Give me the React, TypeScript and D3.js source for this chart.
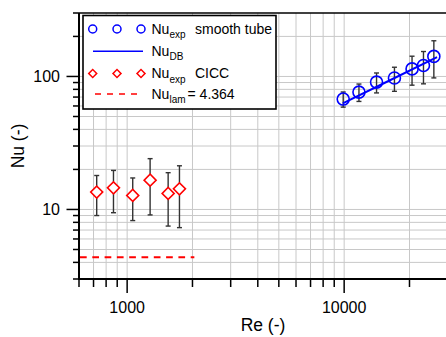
import React, { useEffect, useRef } from 'react';
import * as d3 from 'd3';

// smooth tube experiments
const tubeRe = [9900, 11700, 14100, 17050, 20550, 23200, 25900];
const tubeNu = [67.6, 76.3, 90.7, 97.3, 114, 121, 141.5];
const tubeErr = [8.8, 11.4, 15.5, 20, 28, 33, 44];

// Dittus-Boelter line
const dbRe = [9850, 16000, 26800];
const dbNu = [62.7, 92.4, 140];

// CICC experiments
const ciccRe = [724, 865, 1061, 1276, 1545, 1742];
const ciccNu = [13.5, 14.55, 12.75, 16.6, 13.2, 14.3];
const ciccErr = [4.5, 5.1, 4.5, 7.5, 5.7, 7];

// laminar limit
const lamRe = [600, 2040];
const lamNu = 4.364;

const xMinor = [600, 700, 800, 900, 2000, 3000, 4000, 5000, 6000, 7000, 8000, 9000, 20000, 30000];
const xMajor = [1000, 10000];
const yMinor = [3, 4, 5, 6, 7, 8, 9, 20, 30, 40, 50, 60, 70, 80, 90, 200, 300];
const yMajor = [10, 100];

const W = 446;
const H = 337;
const FONT = '"Liberation Sans", Arial, sans-serif';

export default function App() {
  const svgRef = useRef<SVGSVGElement>(null);

  useEffect(() => {
    if (!svgRef.current) return;
    const svg = d3.select(svgRef.current);
    svg.selectAll('*').remove();

    const left = 79, right = 447.7, top = 13, bottom = 279;
    const x = d3.scaleLog().domain([600, 30000]).range([left, right]);
    const y = d3.scaleLog().domain([3, 300]).range([bottom, top]);

    // grid
    const grid = svg.append('g').attr('stroke', '#c8c8c8').attr('stroke-width', 1);
    [...xMinor, ...xMajor]
      .filter(v => v > 600 && v < 30000)
      .forEach(v => {
        grid.append('line')
          .attr('x1', x(v)).attr('x2', x(v))
          .attr('y1', top).attr('y2', bottom);
      });
    [...yMinor, ...yMajor]
      .filter(v => v > 3 && v < 300)
      .forEach(v => {
        grid.append('line')
          .attr('x1', left).attr('x2', right)
          .attr('y1', y(v)).attr('y2', y(v));
      });

    // axes
    const ax = svg.append('g').attr('stroke', '#000');
    ax.append('line').attr('x1', left).attr('x2', W + 5).attr('y1', bottom).attr('y2', bottom).attr('stroke-width', 2);
    ax.append('line').attr('x1', left).attr('x2', left).attr('y1', top).attr('y2', bottom + 1).attr('stroke-width', 2);
    ax.append('line').attr('x1', left).attr('x2', W + 5).attr('y1', top).attr('y2', top).attr('stroke-width', 1.5);

    xMinor.forEach(v => {
      ax.append('line').attr('x1', x(v)).attr('x2', x(v)).attr('y1', bottom).attr('y2', bottom + 8).attr('stroke-width', 1.5);
    });
    xMajor.forEach(v => {
      ax.append('line').attr('x1', x(v)).attr('x2', x(v)).attr('y1', bottom).attr('y2', bottom + 14).attr('stroke-width', 1.5);
    });
    yMinor.forEach(v => {
      ax.append('line').attr('x1', left - 6).attr('x2', left).attr('y1', y(v)).attr('y2', y(v)).attr('stroke-width', 1.5);
    });
    yMajor.forEach(v => {
      ax.append('line').attr('x1', left - 12.5).attr('x2', left).attr('y1', y(v)).attr('y2', y(v)).attr('stroke-width', 1.5);
    });

    const labels = svg.append('g').attr('font-family', FONT).attr('fill', '#000');
    xMajor.forEach(v => {
      labels.append('text').attr('x', x(v)).attr('y', 312.5)
        .attr('text-anchor', 'middle').attr('font-size', 16).text(d3.format('d')(v));
    });
    yMajor.forEach(v => {
      labels.append('text').attr('x', 60).attr('y', y(v) + 5.8)
        .attr('text-anchor', 'end').attr('font-size', 16).text(d3.format('d')(v));
    });
    labels.append('text').attr('x', 263).attr('y', 331)
      .attr('text-anchor', 'middle').attr('font-size', 17.5).text('Re (-)');
    labels.append('text').attr('transform', 'translate(23.5,146) rotate(-90)')
      .attr('text-anchor', 'middle').attr('font-size', 17.5).text('Nu (-)');

    // laminar line
    svg.append('line')
      .attr('x1', x(lamRe[0]) + 1).attr('x2', x(lamRe[1]))
      .attr('y1', y(lamNu)).attr('y2', y(lamNu))
      .attr('stroke', '#ff0000').attr('stroke-width', 2)
      .attr('stroke-dasharray', '6.7,5.6');

    // error bars
    const drawErr = (re: number[], nu: number[], err: number[]) => {
      const g = svg.append('g').attr('stroke', '#333').attr('stroke-width', 1.4);
      re.forEach((r, i) => {
        const cx = x(r);
        const y1 = y(nu[i] + err[i]);
        const y2 = y(nu[i] - err[i]);
        g.append('line').attr('x1', cx).attr('x2', cx).attr('y1', y1).attr('y2', y2);
        g.append('line').attr('x1', cx - 2.5).attr('x2', cx + 2.5).attr('y1', y1).attr('y2', y1);
        g.append('line').attr('x1', cx - 2.5).attr('x2', cx + 2.5).attr('y1', y2).attr('y2', y2);
      });
    };
    drawErr(tubeRe, tubeNu, tubeErr);
    drawErr(ciccRe, ciccNu, ciccErr);

    // DB line
    const line = d3.line<number>().x((_, i) => x(dbRe[i])).y(d => y(d));
    svg.append('path').attr('d', line(dbNu) as string)
      .attr('fill', 'none').attr('stroke', '#0000ff').attr('stroke-width', 2);

    // markers
    tubeRe.forEach((r, i) => {
      svg.append('circle').attr('cx', x(r)).attr('cy', y(tubeNu[i])).attr('r', 6)
        .attr('fill', 'none').attr('stroke', '#0000ff').attr('stroke-width', 1.6);
    });
    const diamond = d3.symbol().type(d3.symbolSquare);
    ciccRe.forEach((r, i) => {
      svg.append('path').attr('d', diamond.size(72)() as string)
        .attr('transform', `translate(${x(r)},${y(ciccNu[i])}) rotate(45)`)
        .attr('fill', '#fff').attr('stroke', '#ff0000').attr('stroke-width', 1.6);
    });

    // legend
    const lg = svg.append('g');
    lg.append('rect').attr('x', 83).attr('y', 15.5).attr('width', 193).attr('height', 93.5)
      .attr('fill', '#fff').attr('stroke', '#000').attr('stroke-width', 1.6);
    const rowY = [29, 51.3, 73.5, 94];
    [92.7, 117, 141].forEach(cx => {
      lg.append('circle').attr('cx', cx).attr('cy', rowY[0]).attr('r', 4)
        .attr('fill', 'none').attr('stroke', '#0000ff').attr('stroke-width', 1.5);
      lg.append('path').attr('d', diamond.size(32)() as string)
        .attr('transform', `translate(${cx},${rowY[2]}) rotate(45)`)
        .attr('fill', 'none').attr('stroke', '#ff0000').attr('stroke-width', 1.5);
    });
    lg.append('line').attr('x1', 93).attr('x2', 143).attr('y1', rowY[1]).attr('y2', rowY[1])
      .attr('stroke', '#0000ff').attr('stroke-width', 1.6);
    lg.append('line').attr('x1', 95).attr('x2', 138).attr('y1', rowY[3]).attr('y2', rowY[3])
      .attr('stroke', '#ff0000').attr('stroke-width', 1.6).attr('stroke-dasharray', '6,6');

    const entries: [string, string, string, number][] = [
      ['Nu', 'exp', 'smooth tube', 195],
      ['Nu', 'DB', '', 0],
      ['Nu', 'exp', 'CICC', 195],
      ['Nu', 'lam', '= 4.364', 0],
    ];
    entries.forEach(([main, sub, rest, rx], i) => {
      const t = lg.append('text').attr('x', 151.5).attr('y', rowY[i] + 4.5)
        .attr('font-family', FONT).attr('font-size', 14).attr('fill', '#000');
      t.append('tspan').text(main);
      t.append('tspan').attr('font-size', 10).attr('dy', 4.5).text(sub);
      if (rest) {
        const ts = t.append('tspan').attr('dy', -4.5).text(rest);
        if (rx) ts.attr('x', rx);
        else ts.attr('dx', 2);
      }
    });
  }, []);

  return (
    <svg
      ref={svgRef}
      width={W}
      height={H}
      style={{ position: 'absolute', left: 0, top: 0, background: '#fff', display: 'block' }}
    />
  );
}
